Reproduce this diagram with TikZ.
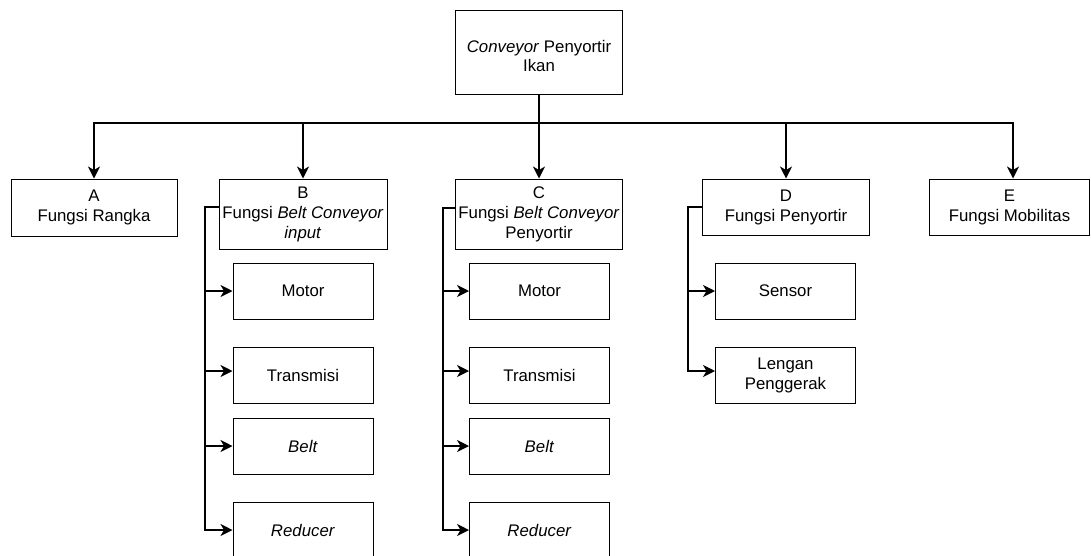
\documentclass[tikz,border=0pt]{standalone}
\usepackage{fontspec}
\setmainfont{Liberation Sans}
\usetikzlibrary{arrows.meta}
\begin{document}
\begin{tikzpicture}[x=1pt,y=-1pt,
  box/.style={draw, line width=1pt, inner sep=0pt, align=center,
    font=\fontsize{16.8}{20}\selectfont},
  sub/.style={box, minimum width=140pt, minimum height=56pt},
  conn/.style={line width=1.3pt},
  arr/.style={conn, -{Stealth[length=12pt,width=12pt,inset=3.5pt]}}]
\useasboundingbox (0,0) rectangle (1091,555);
\clip (0,0) rectangle (1091,555);
% main nodes
\node[box, minimum width=167pt, minimum height=84pt] (top) at (539,52) {};
\node[font=\fontsize{16.8}{19}\selectfont, align=center, inner sep=0pt] (toptext) at (539,56) {\textit{Conveyor} Penyortir\\Ikan};
\node[box, minimum width=166pt, minimum height=57pt] (A) at (94,207.5) {A\\Fungsi Rangka};
\node[box, minimum width=168pt, minimum height=70pt] (B) at (303,214) {B\\Fungsi \textit{Belt Conveyor}\\\textit{input}};
\node[box, minimum width=167pt, minimum height=70pt] (C) at (539,214) {C\\Fungsi \textit{Belt Conveyor}\\Penyortir};
\node[box, minimum width=167pt, minimum height=56pt] (D) at (786,207) {D\\Fungsi Penyortir};
\node[box, minimum width=160pt, minimum height=56pt] (E) at (1009.5,207) {E\\Fungsi Mobilitas};
% sub nodes B
\node[sub] (bm) at (303,291) {Motor};
\node[sub] (bt) at (303,375) {Transmisi};
\node[sub] (bb) at (303,446) {\textit{Belt}};
\node[sub] (br) at (303,530) {\textit{Reducer}};
% sub nodes C
\node[sub] (cm) at (539.5,291) {Motor};
\node[sub] (ct) at (539.5,375) {Transmisi};
\node[sub] (cb) at (539.5,446) {\textit{Belt}};
\node[sub] (cr) at (539.5,530) {\textit{Reducer}};
% sub nodes D
\node[sub] (ds) at (785.5,291) {Sensor};
\node[sub] (dl) at (785.5,375) {Lengan\\Penggerak};
% top connectors
\coordinate (hub) at (539,123);
\draw[arr] (top.south) -- (C.north);
\draw[arr] (hub) -| (A.north);
\draw[arr] (hub) -| (B.north);
\draw[arr] (hub) -| (D.north);
\draw[arr] (hub) -| ([xshift=3.5pt]E.north);
% branch B
\coordinate (bx) at (205,207);
\coordinate (btin) at ([yshift=4pt]bt.west);
\draw[arr] ([yshift=7pt]B.west) -- (bx) |- (br.west);
\draw[arr] (bx |- bm.west) -- (bm.west);
\draw[arr] (bx |- btin) -- (btin);
\draw[arr] (bx |- bb.west) -- (bb.west);
% branch C
\coordinate (cx) at (443,208);
\coordinate (ctin) at ([yshift=4pt]ct.west);
\draw[arr] ([yshift=6pt]C.west) -- (cx) |- (cr.west);
\draw[arr] (cx |- cm.west) -- (cm.west);
\draw[arr] (cx |- ctin) -- (ctin);
\draw[arr] (cx |- cb.west) -- (cb.west);
% branch D
\coordinate (dx) at (688,207);
\coordinate (dlin) at ([yshift=4pt]dl.west);
\draw[arr] (D.west) -- (dx) |- (dlin);
\draw[arr] (dx |- ds.west) -- (ds.west);
\end{tikzpicture}
\end{document}
